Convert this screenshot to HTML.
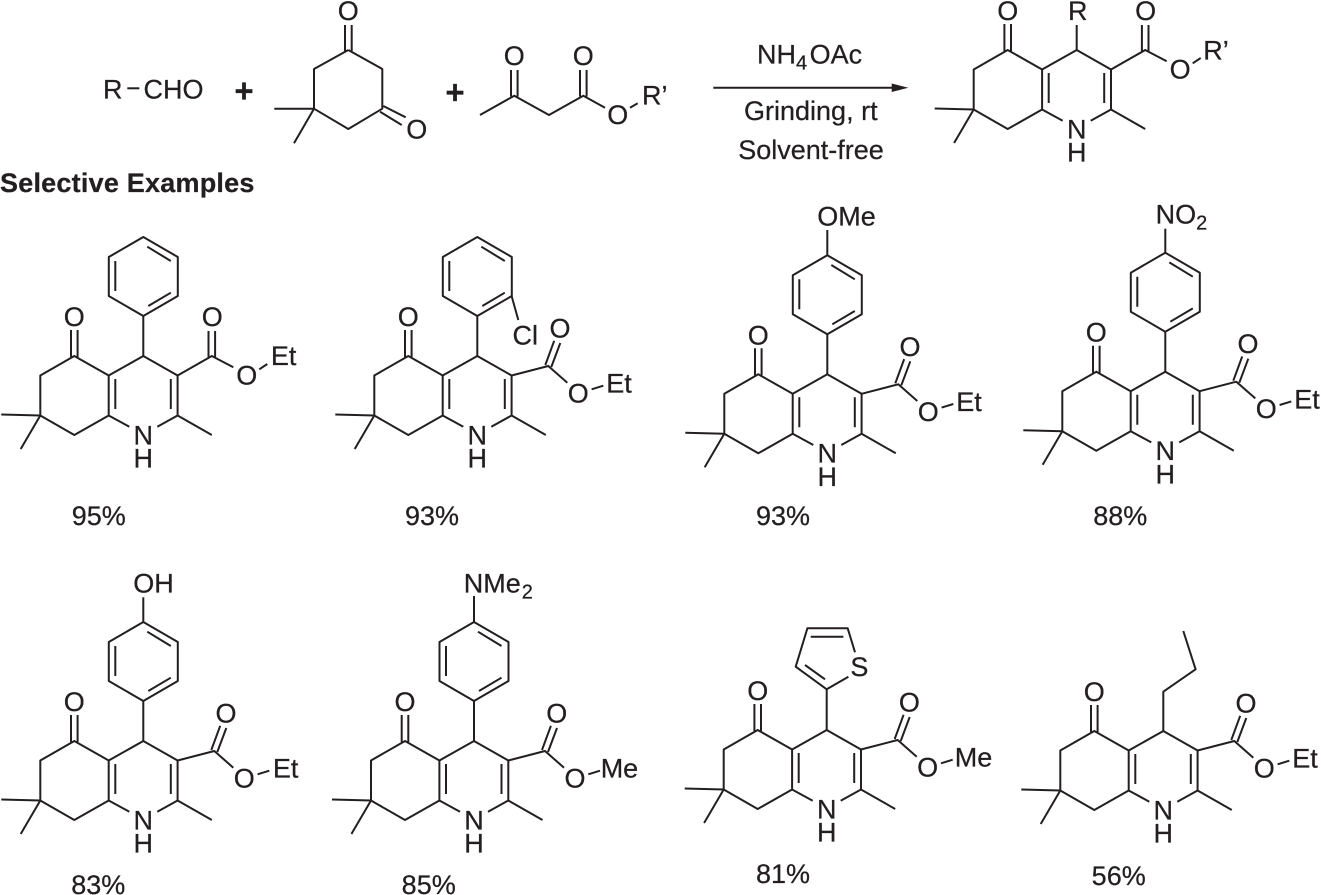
<!DOCTYPE html>
<html><head><meta charset="utf-8"><style>
html,body{margin:0;padding:0;background:#fff}
svg{display:block}
text{font-family:"Liberation Sans",sans-serif;font-size:27px;fill:#231f20;stroke:#231f20;stroke-width:.25}
.m{text-anchor:middle}
path,line{fill:none;stroke:#231f20;stroke-width:2;stroke-linejoin:round}
.s{font-size:20px}
.b{font-weight:bold}
</style></head><body>
<svg width="1321" height="895" viewBox="0 0 1321 895" xmlns="http://www.w3.org/2000/svg">
<defs>
<g id="core"><path d="M0,0L-34.6,19.5L-69,0L-103,19.5V59.5L-69,79L-34.6,59.5V19.5M0,0L34.3,19.5V59.5L68.5,79M-34.6,59.5L-14,70.7M34.3,59.5L14,70.7M-103,59.5L-142,58.5M-103,59.5L-122.6,93M-28,23V53M27.5,23V53M-72.3,1V-26M-65.7,1V-26"/></g>
<g id="estA"><path d="M34.3,19.5L68.5,0L90,11.3M65.2,1V-25M71.8,1V-25M116,13.3L124,8"/></g>
<g id="estB"><path d="M34.3,19.5L71,10L90,26.7M68,9L76.9,-15.2M74,11L83,-13M114.3,33.3L126,29.7"/></g>
<g id="ph"><path d="M0,0V-40L34.5,-60V-99L0,-119L-34.5,-99V-60L0,-40M-28,-95V-65M4,-109.3L27.5,-95M5,-50L27.5,-63.3"/></g>
</defs>

<!-- reagents -->
<text x="103" y="98.7">R</text><line x1="127.3" y1="88.3" x2="139.3" y2="88.3"/><text x="143.5" y="98.7">CHO</text>
<text class="m b" x="244" y="102" style="font-size:33px">+</text>
<text class="m b" x="455" y="103.5" style="font-size:33px">+</text>
<path d="M348.3,50L314,69V108.7L348.3,129L382.3,108.7V69L348.3,50M345,51V25M351.7,51V25M314,108.7H274.3M314,108.7L294,143.3M380,111.7L401.7,125M383.3,106L405.7,117.3"/>
<text class="m" x="348.3" y="20">O</text><text class="m" x="416.7" y="138.3">O</text>
<path d="M480,115L514.3,95.7L549,115L583.3,95.7L605,107.7M511,96.5V70M517.6,96.5V70M580,96.5V70M586.6,96.5V70M630,107.7L637.7,103.3"/>
<text class="m" x="514.3" y="65">O</text><text class="m" x="583.3" y="65">O</text><text class="m" x="617.7" y="124.2">O</text><text x="642" y="104.7">R’</text>

<!-- arrow -->
<line x1="713.3" y1="87.7" x2="895" y2="87.7"/>
<path d="M891.7,83.5L908.3,87.7L891.7,92Z" style="fill:#231f20;stroke:none"/>
<text x="757" y="63.3">NH<tspan class="s" dy="6">4</tspan><tspan dy="-6" dx="2.5">OAc</tspan></text>
<text class="m" x="810.8" y="120">Grinding, rt</text>
<text class="m" x="811" y="159">Solvent-free</text>

<!-- product -->
<g transform="translate(1076.7,50)">
<use href="#core"/><use href="#estA"/><path d="M0,0V-25"/>
<text class="m" x="-69" y="-30">O</text><text class="m" x="1" y="-30">R</text><text class="m" x="69" y="-30">O</text><text class="m" x="103.5" y="28.7">O</text>
<text x="126.6" y="9.3">R’</text>
<text class="m" y="88.3">N</text><text class="m" y="111.7">H</text>
</g>

<text class="b" x="0" y="192" style="letter-spacing:.22px">Selective Examples</text>

<!-- M1 -->
<g transform="translate(143.3,356)">
<use href="#core"/><use href="#estA"/><use href="#ph"/>
<text class="m" x="-69" y="-30">O</text><text class="m" x="69" y="-30">O</text><text class="m" x="103.5" y="28.7">O</text>
<text x="127.6" y="9">Et</text>
<text class="m" y="88.3">N</text><text class="m" y="111.7">H</text>
</g>
<text class="m" x="98.8" y="525">95%</text>

<!-- M2 -->
<g transform="translate(477.3,356)">
<use href="#core"/><use href="#estB"/><use href="#ph"/><path d="M34.3,-60L41,-36"/>
<text class="m" x="48" y="-11.7">Cl</text>
<text class="m" x="-69" y="-30">O</text><text class="m" x="82.7" y="-18.5">O</text><text class="m" x="101" y="46.5">O</text>
<text x="129" y="36.7">Et</text>
<text class="m" y="88.3">N</text><text class="m" y="111.7">H</text>
</g>
<text class="m" x="432" y="525">93%</text>

<!-- M3 -->
<g transform="translate(827.3,374.3)">
<use href="#core"/><use href="#estB"/><use href="#ph"/><path d="M0,-119V-144.3"/>
<text x="-10" y="-148.7">OMe</text>
<text class="m" x="-69" y="-30">O</text><text class="m" x="82.7" y="-18.5">O</text><text class="m" x="101" y="46.5">O</text>
<text x="129" y="36.7">Et</text>
<text class="m" y="88.3">N</text><text class="m" y="111.7">H</text>
</g>
<text class="m" x="783" y="525">93%</text>

<!-- M4 -->
<g transform="translate(1165.3,371.7)">
<use href="#core"/><use href="#estB"/><use href="#ph"/><path d="M0,-119V-143"/>
<text x="-9.7" y="-148.3">NO<tspan class="s" dy="6">2</tspan></text>
<text class="m" x="-69" y="-30">O</text><text class="m" x="82.7" y="-18.5">O</text><text class="m" x="101" y="46.5">O</text>
<text x="129" y="36.7">Et</text>
<text class="m" y="88.3">N</text><text class="m" y="111.7">H</text>
</g>
<text class="m" x="1120.3" y="525">88%</text>

<!-- M5 -->
<g transform="translate(143.3,741)">
<use href="#core"/><use href="#estB"/><use href="#ph"/><path d="M0,-119V-143.7"/>
<text x="-10" y="-148.7">OH</text>
<text class="m" x="-69" y="-30">O</text><text class="m" x="82.7" y="-18.5">O</text><text class="m" x="101" y="46.5">O</text>
<text x="129.6" y="36.7">Et</text>
<text class="m" y="88.3">N</text><text class="m" y="111.7">H</text>
</g>
<text class="m" x="98.3" y="894">83%</text>

<!-- M6 -->
<g transform="translate(474,741)">
<use href="#core"/><use href="#estB"/><use href="#ph"/><path d="M0,-119V-145"/>
<text x="-10.3" y="-148.7">NMe<tspan class="s" dy="6" dx="1">2</tspan></text>
<text class="m" x="-69" y="-30">O</text><text class="m" x="82.7" y="-18.5">O</text><text class="m" x="101" y="46.5">O</text>
<text x="126.7" y="36.7">Me</text>
<text class="m" y="88.3">N</text><text class="m" y="111.7">H</text>
</g>
<text class="m" x="428.7" y="894">85%</text>

<!-- M7 -->
<g transform="translate(826.7,730)">
<use href="#core"/><use href="#estB"/>
<path d="M0,0V-40.7L21.7,-53.3M0,-40.7L-31,-63.3L-19.3,-101.7H21L28.3,-77.7M-21.7,-65L-1.7,-50.7M-16,-93.3H16.7"/>
<text class="m" x="32.7" y="-54">S</text>
<text class="m" x="-69" y="-30">O</text><text class="m" x="82.7" y="-18.5">O</text><text class="m" x="101" y="46.5">O</text>
<text x="128" y="36.7">Me</text>
<text class="m" y="88.3">N</text><text class="m" y="111.7">H</text>
</g>
<text class="m" x="783" y="883">81%</text>

<!-- M8 -->
<g transform="translate(1163.3,731)">
<use href="#core"/><use href="#estB"/>
<path d="M0,0V-39.3L32.3,-61.7L20,-100"/>
<text class="m" x="-69" y="-30">O</text><text class="m" x="82.7" y="-18.5">O</text><text class="m" x="101" y="46.5">O</text>
<text x="129" y="36.7">Et</text>
<text class="m" y="88.3">N</text><text class="m" y="111.7">H</text>
</g>
<text class="m" x="1118.7" y="885">56%</text>
</svg>
</body></html>
